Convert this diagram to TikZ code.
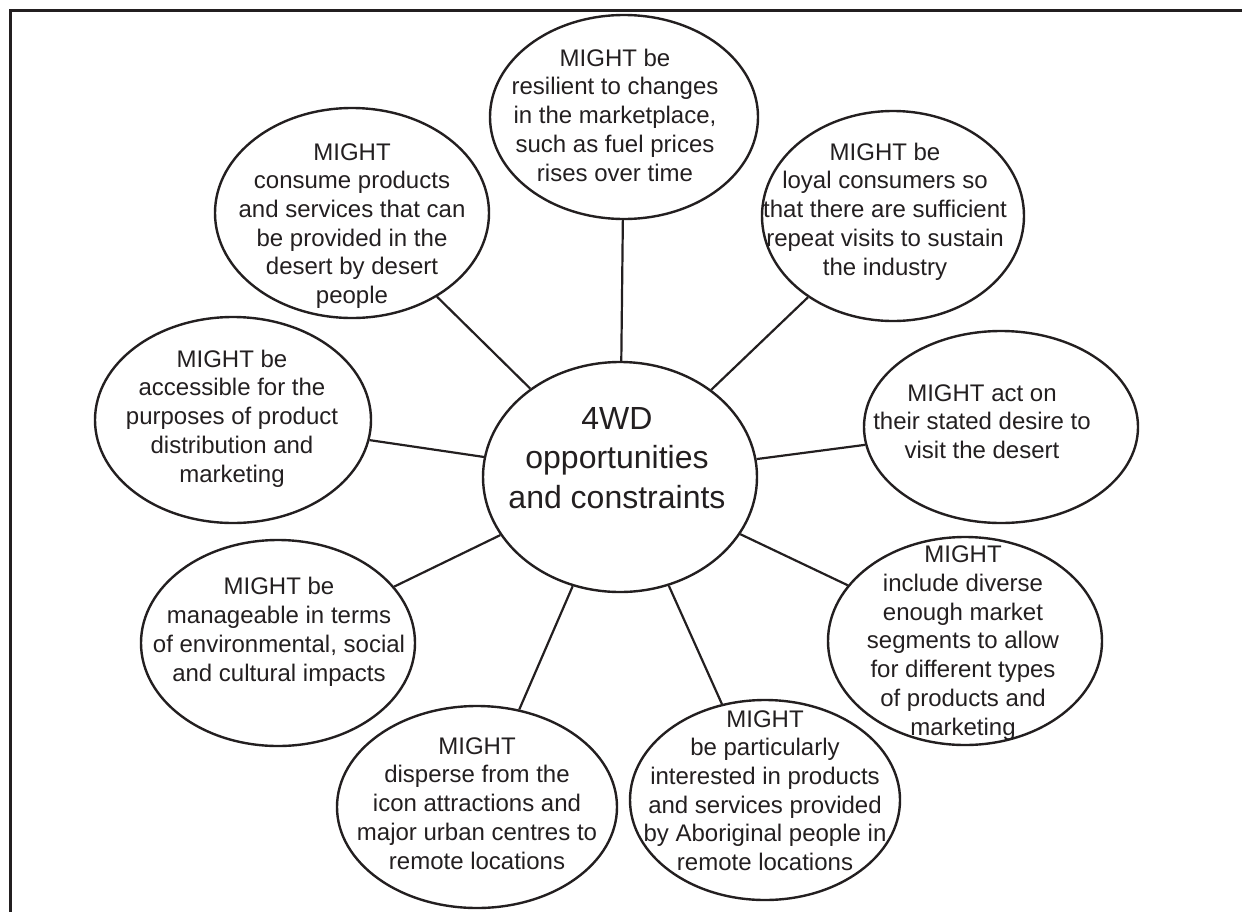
\documentclass[tikz,border=0pt]{standalone}
\usepackage{fontspec}
\setmainfont{Liberation Sans}
\usetikzlibrary{shapes.geometric}
\definecolor{ink}{RGB}{35,31,32}
\begin{document}
\begin{tikzpicture}[x=1pt,y=-1pt,
  oval/.style 2 args={draw=ink, line width=2.4pt, ellipse, inner sep=0pt,
    minimum width=2*#1 pt, minimum height=2*#2 pt},
  label text/.style={text=ink, align=center, inner sep=0pt, anchor=base,
    font=\fontsize{24}{28.7}\selectfont},
  hub text/.style={text=ink, align=center, inner sep=0pt, anchor=base,
    font=\fontsize{32}{39.5}\selectfont},
  link/.style={draw=ink, line width=2.2pt}]
\useasboundingbox (0,0) rectangle (1242,911);
\clip (0,0) rectangle (1242,911);

% outer frame (runs off the right and bottom edges)
\draw[ink, line width=3pt] (10,940) -- (10,10) -- (1270,10);

% ellipses
\node[oval={137}{115}] (hub) at (620,477) {};
\node[oval={134}{102}] (resil) at (624,117) {};
\node[oval={137}{105}] (consume) at (352,213) {};
\node[oval={131}{105}] (loyal) at (893,216) {};
\node[oval={138}{103}] (access) at (233,420) {};
\node[oval={137}{96}] (act) at (1001,427) {};
\node[oval={137}{104}] (diverse) at (965,641) {};
\node[oval={137}{103}] (manage) at (278,643) {};
\node[oval={140}{101}] (disperse) at (477,807) {};
\node[oval={135}{100}] (aborig) at (765,800) {};

% spokes
\foreach \n in {resil,consume,loyal,access,act,diverse,manage,disperse,aborig}
  \draw[link] (hub) -- (\n);

% texts (anchored at the baseline of their last line)
\node[hub text] (hubT) at (617,508) {4WD\\opportunities\\and constraints};
\node[label text] (resilT) at (615,181) {MIGHT be\\resilient to changes\\in the marketplace,\\such as fuel prices\\rises over time};
\node[label text] (consumeT) at (352,303.5) {MIGHT\\consume products\\and services that can\\be provided in the\\desert by desert\\people};
\node[label text] (loyalT) at (885,275) {MIGHT be\\loyal consumers so\\that there are sufficient\\repeat visits to sustain\\the industry};
\node[label text] (accessT) at (232,482) {MIGHT be\\accessible for the\\purposes of product\\distribution and\\marketing};
\node[label text] (actT) at (982,458.5) {MIGHT act on\\their stated desire to\\visit the desert};
\node[label text] (diverseT) at (963,735) {MIGHT\\include diverse\\enough market\\segments to allow\\for different types\\of products and\\marketing};
\node[label text] (manageT) at (279,681) {MIGHT be\\manageable in terms\\of environmental, social\\and cultural impacts};
\node[label text] (disperseT) at (477,869) {MIGHT\\disperse from the\\icon attractions and\\major urban centres to\\remote locations};
\node[label text] (aborigT) at (765,870.5) {MIGHT\\be particularly\\interested in products\\and services provided\\by Aboriginal people in\\remote locations};
\end{tikzpicture}
\end{document}
